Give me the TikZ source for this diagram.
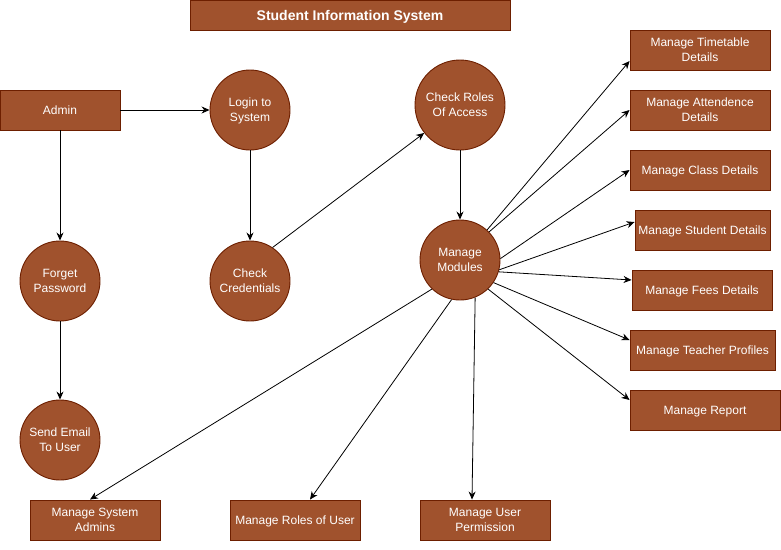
\documentclass[tikz,border=0pt]{standalone}
\usepackage{fontspec}
\setmainfont{Liberation Sans}
\usetikzlibrary{arrows.meta}

\begin{document}
\begin{tikzpicture}[x=1pt,y=-1pt,
  box/.style={draw=siennadark, line width=0.9pt, fill=sienna, text=white, minimum height=40pt, inner sep=0pt, align=center, font=\fontsize{12}{15}\selectfont, text height=8.6pt, text depth=0pt},
  proc/.style={circle, draw=siennadark, line width=0.9pt, fill=sienna, text=white, minimum size=80pt, inner sep=0pt, align=center, font=\fontsize{12}{15}\selectfont},
  twolines/.style={text height=23.6pt, text depth=0pt},
  flow/.style={-{Stealth[length=8pt,width=7pt]}, line width=0.8pt, black}]

% Define the colors
\definecolor{sienna}{HTML}{A0522D}
\definecolor{siennadark}{HTML}{6D1F00}

% Fix the page
\useasboundingbox (0,0) rectangle (781,549);

% Draw the title
\node[box, minimum width=320pt, minimum height=30pt, font=\fontsize{14}{17}\selectfont\bfseries, text height=10pt] (title) at (350,15) {Student Information System};

% Draw the left side
\node[box, minimum width=120pt] (admin) at (60,110) {Admin};
\node[proc, twolines] (login) at (250,110) {Login to\\System};
\node[proc, twolines] (forget) at (60,281) {Forget\\Password};
\node[proc, twolines] (cred) at (250,281) {Check\\Credentials};
\node[proc, twolines] (email) at (60,440) {Send Email\\To User};

% Draw the middle
\node[proc, twolines, minimum size=90pt] (roles) at (460,105) {Check Roles\\Of Access};
\node[proc, twolines] (modules) at (460,260) {Manage\\Modules};

% Draw the modules on the right
\node[box, twolines, minimum width=140pt] (timetable) at (700,50) {Manage Timetable\\Details};
\node[box, twolines, minimum width=140pt] (attend) at (700,110) {Manage Attendence\\Details};
\node[box, minimum width=140pt] (class) at (700,170) {Manage Class Details};
\node[box, minimum width=135pt] (student) at (702.5,230) {Manage Student Details};
\node[box, minimum width=140pt] (fees) at (702,290) {Manage Fees Details};
\node[box, minimum width=145pt] (teacher) at (702.5,350) {Manage Teacher Profiles};
\node[box, minimum width=150pt] (report) at (705,410) {Manage Report};

% Draw the modules at the bottom
\node[box, twolines, minimum width=130pt] (sysadmin) at (95,520) {Manage System\\Admins};
\node[box, minimum width=130pt] (userroles) at (295,520) {Manage Roles of User};
\node[box, twolines, minimum width=130pt] (permission) at (485,520) {Manage User\\Permission};

% Draw the flows
\draw[flow] (admin) -- (login);
\draw[flow] (admin) -- (forget);
\draw[flow] (forget) -- (email);
\draw[flow] (login) -- (cred);
\draw[flow] (cred.56) -- (roles.218);
\draw[flow] (roles) -- (modules);

% Draw the flows out of the modules
\draw[flow] (modules.48) -- ([yshift=-11pt]timetable.west);
\draw[flow] (modules.44) -- (attend.west);
\draw[flow] (modules.2) -- (class.west);
\draw[flow] (modules.-14) -- ([yshift=8pt]student.west);
\draw[flow] (modules.-17) -- ([yshift=10pt]fees.west);
\draw[flow] (modules.-34) -- ([yshift=10pt]teacher.west);
\draw[flow] (modules.-46) -- ([yshift=10pt]report.west);
\draw[flow] (modules.226) -- ([xshift=-5pt]sysadmin.north);
\draw[flow] (modules.258) -- ([xshift=15pt]userroles.north);
\draw[flow] (modules.292) -- ([xshift=-13pt]permission.north);

\end{tikzpicture}
\end{document}
